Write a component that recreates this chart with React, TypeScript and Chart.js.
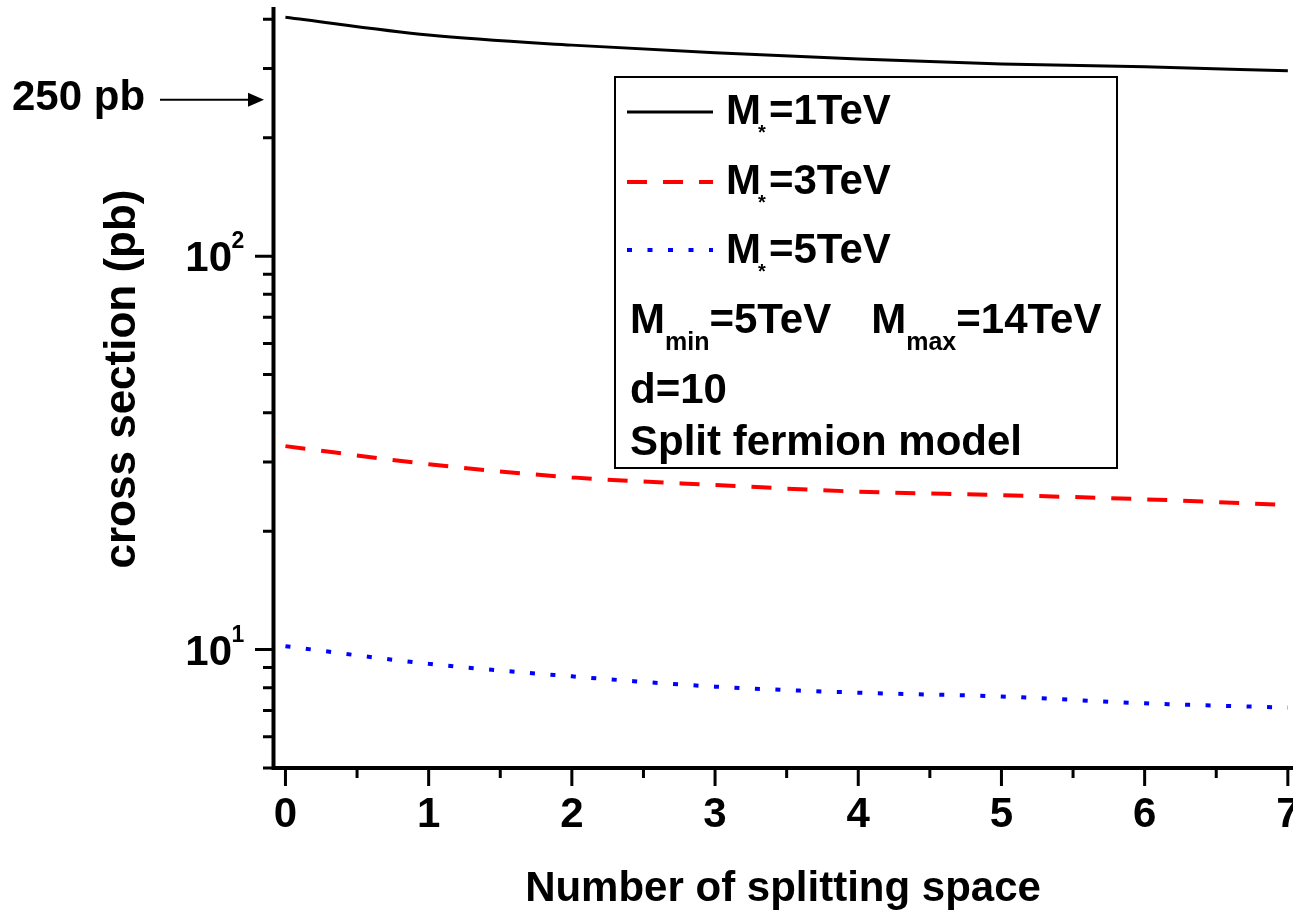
import { useEffect, useRef } from 'react';
import { Chart, registerables } from 'chart.js';

Chart.register(...registerables);

// ---- data ----
const splittingSpaces = [0, 1, 2, 3, 4, 5, 6, 7];
const sigmaM1 = [405, 365, 344, 329, 317, 308, 303, 296];
const sigmaM3 = [32.9, 29.6, 27.4, 26.2, 25.2, 24.7, 24.1, 23.3];
const sigmaM5 = [10.2, 9.2, 8.55, 8.05, 7.77, 7.6, 7.3, 7.12];
const seriesMasses = ['1TeV', '3TeV', '5TeV'];
const seriesColors = ['#000000', '#ff0000', '#0000ff'];

const xMajorTicks = [0, 1, 2, 3, 4, 5, 6, 7];
const xMinorTicks = [0.5, 1.5, 2.5, 3.5, 4.5, 5.5, 6.5];
const yMajorTicks = [10, 100];
const yMajorExponents = ['1', '2'];
const yMinorTicks = [5, 6, 7, 8, 9, 20, 30, 40, 50, 60, 70, 80, 90, 200, 300, 400];

const xTitle = 'Number of splitting space';
const yTitle = 'cross section (pb)';
const annotationValue = 250;
const annotationText = '250 pb';
const paramMmin = '5TeV';
const paramMmax = '14TeV';
const paramD = '10';
const modelName = 'Split fermion model';

const FAMILY = '"Liberation Sans", Arial, Helvetica, sans-serif';
const bold = (s: number) => `bold ${s}px ${FAMILY}`;

const dashes: number[][] = [[], [20, 16], [5, 15.5]];
const widths = [3, 4, 4];

const decorPlugin = {
  id: 'decor',
  afterDraw(chart: any) {
    const ctx: CanvasRenderingContext2D = chart.ctx;
    const { left, right, top, bottom } = chart.chartArea;
    const xs = chart.scales.x;
    const ys = chart.scales.y;
    ctx.save();
    ctx.strokeStyle = '#000';
    ctx.fillStyle = '#000';
    ctx.setLineDash([]);

    // axes
    ctx.lineWidth = 4;
    ctx.beginPath();
    ctx.moveTo(left + 0.5, top);
    ctx.lineTo(left + 0.5, bottom + 2);
    ctx.moveTo(left - 1.5, bottom);
    ctx.lineTo(right, bottom);
    ctx.stroke();

    // ticks
    ctx.lineWidth = 3;
    ctx.beginPath();
    xMajorTicks.forEach((v) => {
      const p = xs.getPixelForValue(v);
      ctx.moveTo(p, bottom);
      ctx.lineTo(p, bottom + 18);
    });
    xMinorTicks.forEach((v) => {
      const p = xs.getPixelForValue(v);
      ctx.moveTo(p, bottom);
      ctx.lineTo(p, bottom + 10);
    });
    yMajorTicks.forEach((v) => {
      const p = ys.getPixelForValue(v);
      ctx.moveTo(left - 18, p);
      ctx.lineTo(left, p);
    });
    yMinorTicks.forEach((v) => {
      const p = ys.getPixelForValue(v);
      ctx.moveTo(left - 10, p);
      ctx.lineTo(left, p);
    });
    ctx.stroke();

    // x tick labels
    ctx.font = bold(42);
    ctx.textAlign = 'center';
    ctx.textBaseline = 'alphabetic';
    xMajorTicks.forEach((v) => {
      ctx.fillText(String(v), xs.getPixelForValue(v), bottom + 59);
    });

    // y tick labels
    yMajorTicks.forEach((v, i) => {
      const p = ys.getPixelForValue(v);
      ctx.font = bold(42);
      ctx.textAlign = 'right';
      ctx.fillText('10', left - 41, p + 15);
      ctx.font = bold(23);
      ctx.textAlign = 'left';
      ctx.fillText(yMajorExponents[i], left - 41.5, p + 15 - 23);
    });

    // axis titles
    ctx.font = bold(42);
    ctx.textAlign = 'center';
    ctx.fillText(xTitle, (left + right) / 2, bottom + 133);

    ctx.save();
    ctx.translate(135, 379);
    ctx.rotate(-Math.PI / 2);
    ctx.font = bold(44);
    ctx.textAlign = 'center';
    ctx.fillText(yTitle, 0, 0);
    ctx.restore();

    // annotation arrow
    const ay = ys.getPixelForValue(annotationValue);
    ctx.font = bold(42);
    ctx.textAlign = 'left';
    ctx.fillText(annotationText, 12, ay + 10);
    ctx.lineWidth = 2;
    ctx.beginPath();
    ctx.moveTo(160, ay);
    ctx.lineTo(250, ay);
    ctx.stroke();
    ctx.beginPath();
    ctx.moveTo(left - 9, ay);
    ctx.lineTo(left - 25, ay - 7);
    ctx.lineTo(left - 25, ay + 7);
    ctx.closePath();
    ctx.fill();

    // legend box
    ctx.fillStyle = '#fff';
    ctx.fillRect(615, 77, 502, 391);
    ctx.strokeStyle = '#000';
    ctx.lineWidth = 2;
    ctx.strokeRect(615, 77, 502, 391);
    ctx.fillStyle = '#000';

    const lineYs = [112, 182, 250];
    const baseYs = [124, 194, 263];
    seriesMasses.forEach((m, i) => {
      ctx.save();
      ctx.strokeStyle = seriesColors[i];
      ctx.lineWidth = widths[i];
      ctx.setLineDash(dashes[i]);
      ctx.beginPath();
      ctx.moveTo(627, lineYs[i]);
      ctx.lineTo(713, lineYs[i]);
      ctx.stroke();
      ctx.restore();
      let x = 726;
      ctx.textAlign = 'left';
      ctx.font = bold(42);
      ctx.fillText('M', x, baseYs[i]);
      x += ctx.measureText('M').width;
      ctx.font = bold(20);
      ctx.fillText('*', x - 3, baseYs[i] + 15);
      x += 8;
      ctx.font = bold(42);
      ctx.fillText('=' + m, x, baseYs[i]);
    });

    // M_min / M_max row
    {
      const by = 333;
      let x = 630;
      ctx.font = bold(42);
      ctx.fillText('M', x, by);
      x += ctx.measureText('M').width;
      ctx.font = bold(25);
      ctx.fillText('min', x, by + 17);
      x += ctx.measureText('min').width;
      ctx.font = bold(42);
      const t1 = '=' + paramMmin;
      ctx.fillText(t1, x, by);
      x += ctx.measureText(t1).width + 40;
      ctx.fillText('M', x, by);
      x += ctx.measureText('M').width;
      ctx.font = bold(25);
      ctx.fillText('max', x, by + 17);
      x += ctx.measureText('max').width;
      ctx.font = bold(42);
      ctx.fillText('=' + paramMmax, x, by);
    }
    ctx.font = bold(42);
    ctx.fillText('d=' + paramD, 630, 403);
    ctx.fillText(modelName, 630, 455);

    ctx.restore();
  },
};

export default function App() {
  const canvasRef = useRef<HTMLCanvasElement | null>(null);

  useEffect(() => {
    const canvas = canvasRef.current;
    if (!canvas) return;
    const series = [sigmaM1, sigmaM3, sigmaM5];
    const chart = new Chart(canvas, {
      type: 'line',
      data: {
        datasets: series.map((s, i) => ({
          label: 'M*=' + seriesMasses[i],
          data: splittingSpaces.map((x, j) => ({ x, y: s[j] })),
          borderColor: seriesColors[i],
          borderWidth: widths[i],
          borderDash: dashes[i],
          pointRadius: 0,
          fill: false,
          cubicInterpolationMode: 'monotone' as const,
        })),
      },
      options: {
        animation: false,
        responsive: false,
        maintainAspectRatio: false,
        devicePixelRatio: 1,
        layout: { padding: { left: 273, top: 7, right: 0, bottom: 145 } },
        plugins: { legend: { display: false }, tooltip: { enabled: false } },
        events: [],
        scales: {
          x: { type: 'linear', min: -0.087, max: 7.036, display: false },
          y: { type: 'logarithmic', min: 5, max: 430, display: false },
        },
      },
      plugins: [decorPlugin],
    });
    return () => chart.destroy();
  }, []);

  return (
    <div
      style={{
        position: 'absolute',
        left: 0,
        top: 0,
        width: 1293,
        height: 913,
        overflow: 'hidden',
        background: '#fff',
      }}
    >
      <canvas ref={canvasRef} width={1293} height={913} style={{ display: 'block' }} />
    </div>
  );
}
